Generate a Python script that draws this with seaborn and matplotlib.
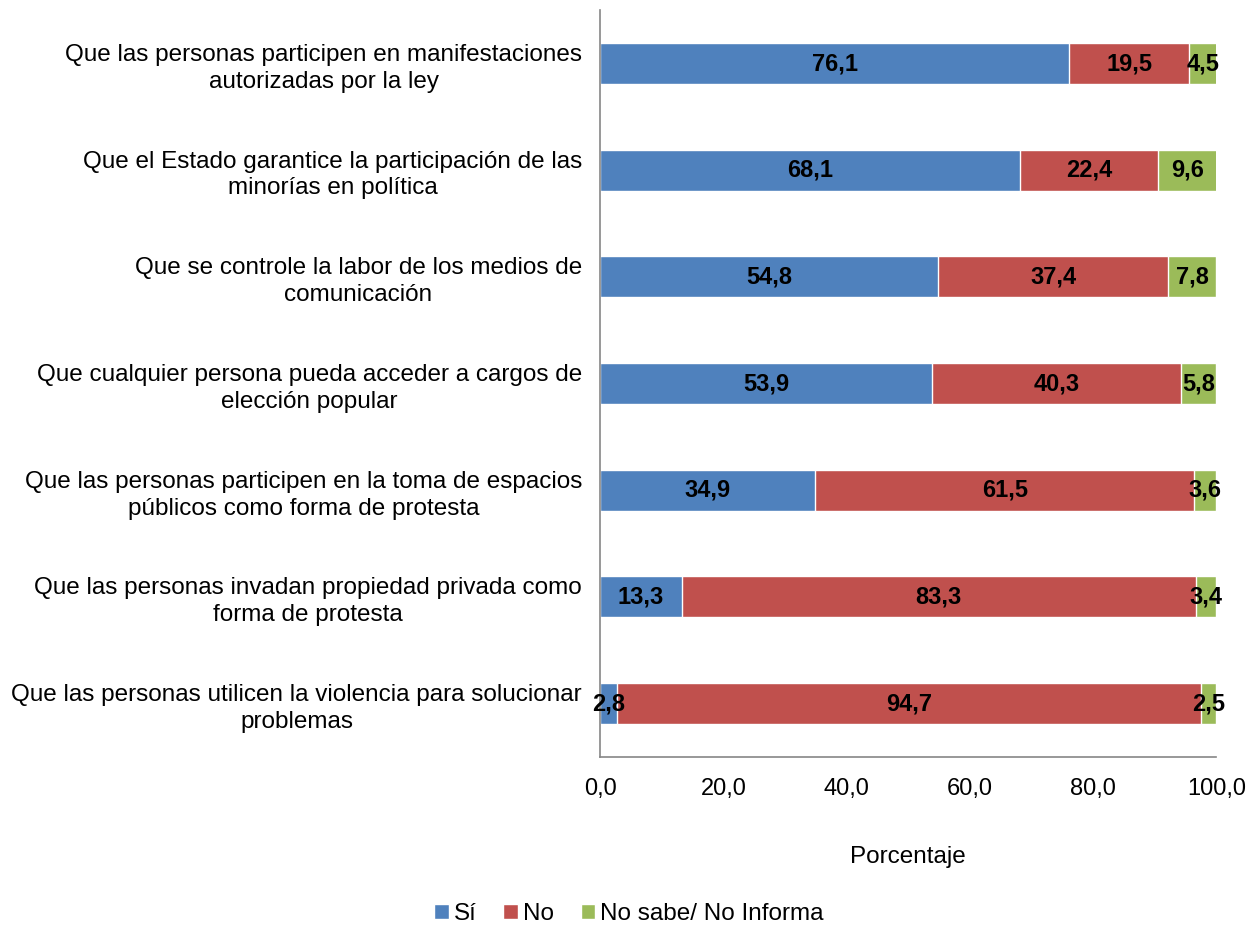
import matplotlib
matplotlib.use("Agg")
import matplotlib.pyplot as plt
import seaborn as sns
import pandas as pd
import numpy as np
from matplotlib.patches import Patch

categories = [
    "Que las personas participen en manifestaciones\nautorizadas por la ley",
    "Que el Estado garantice la participación de las\nminorías en política",
    "Que se controle la labor de los medios de\ncomunicación",
    "Que cualquier persona pueda acceder a cargos de\nelección popular",
    "Que las personas participen en la toma de espacios\npúblicos como forma de protesta",
    "Que las personas invadan propiedad privada como\nforma de protesta",
    "Que las personas utilicen la violencia para solucionar\nproblemas",
]
si = [76.1, 68.1, 54.8, 53.9, 34.9, 13.3, 2.8]
no = [19.5, 22.4, 37.4, 40.3, 61.5, 83.3, 94.7]
ns = [4.5, 9.6, 7.8, 5.8, 3.6, 3.4, 2.5]
series_names = ["Sí", "No", "No sabe/ No Informa"]
colors = ["#4F81BD", "#C0504D", "#9BBB59"]
ticks = [0, 20, 40, 60, 80, 100]

sns.set_theme(style="white")
plt.rcParams["font.family"] = ["Liberation Sans", "DejaVu Sans"]

df = pd.DataFrame({"cat": categories, "si": si, "no": no, "ns": ns})
df["c1"] = df["si"]
df["c2"] = df["si"] + df["no"]
df["c3"] = df["si"] + df["no"] + df["ns"]

fig = plt.figure(figsize=(12.58, 9.27), dpi=100)
ax = fig.add_axes([0.477, 0.1834, 0.49, 0.8056])

# stacked bars drawn as overlapping cumulative totals
for col, color in zip(["c3", "c2", "c1"], colors[::-1]):
    sns.barplot(data=df, x=col, y="cat", orient="h", color=color,
                width=0.385, edgecolor="white", linewidth=1.0, ax=ax,
                saturation=1)

for i, row in df.iterrows():
    starts = [0, row["c1"], row["c2"]]
    vals = [row["si"], row["no"], row["ns"]]
    for s, v in zip(starts, vals):
        ax.text(s + v / 2, i, f"{v:.1f}".replace(".", ","),
                ha="center", va="center", fontsize=17,
                fontweight="bold", color="black")

ax.set_xlim(0, 100)
ax.set_ylim(len(categories) - 0.5, -0.5)
ax.set_xticks(ticks)
ax.set_xticklabels([f"{t:.1f}".replace(".", ",") for t in ticks], fontsize=17)
ax.set_yticks(range(len(categories)))
ax.set_yticklabels(categories, fontsize=17.5, multialignment="center",
                   linespacing=1.28, color="black")
ax.set_yticks(np.arange(-0.5, len(categories) + 0.5, 1), minor=True)
ax.tick_params(axis="y", which="major", length=0, pad=13)
ax.tick_params(axis="y", which="minor", length=6, color="#868686", width=1.2, direction="out")
ax.tick_params(axis="x", which="major", length=6, color="#868686", width=1.2,
               direction="out", pad=9, labelcolor="black")
ax.set_xlabel("Porcentaje", fontsize=17.5, labelpad=33, color="black")
ax.set_ylabel("")
for s in ["top", "right"]:
    ax.spines[s].set_visible(False)
for s in ["left", "bottom"]:
    ax.spines[s].set_color("#868686")
    ax.spines[s].set_linewidth(1.2)

handles = [Patch(facecolor=c, edgecolor="white", label=n) for c, n in zip(colors, series_names)]
fig.legend(handles=handles, loc="center", bbox_to_anchor=(0.5, 0.014), ncol=3,
           frameon=False, fontsize=17.5, handlelength=0.6, handleheight=0.6,
           handletextpad=0.2, columnspacing=1.1, labelcolor="black")

fig.savefig("out.png", dpi=100)
